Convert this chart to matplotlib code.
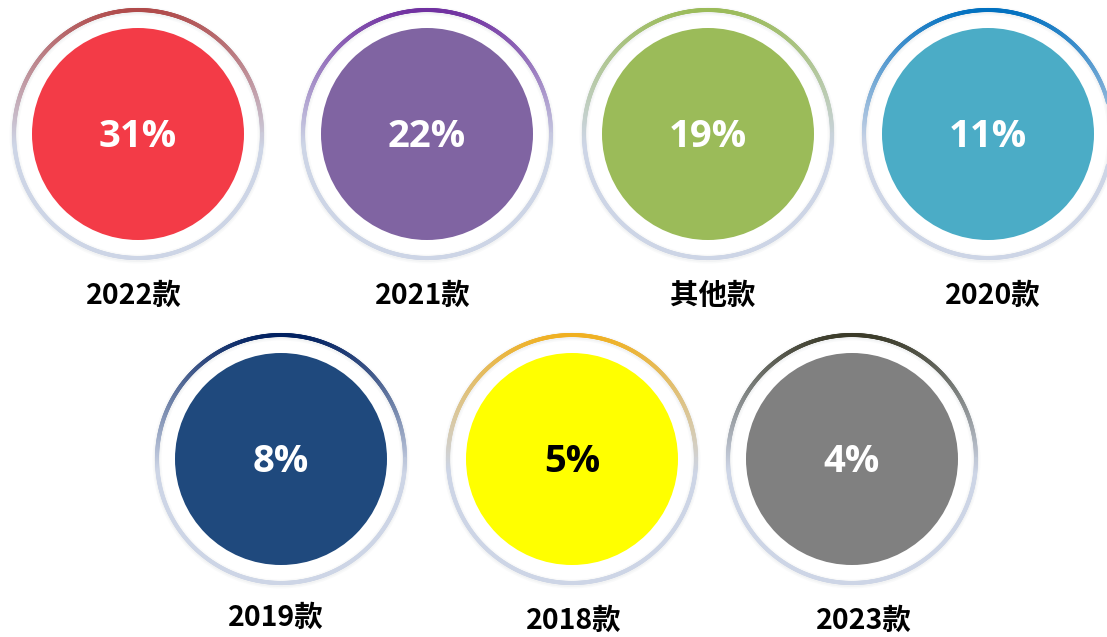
import numpy as np
import matplotlib
matplotlib.use("Agg")
import matplotlib.pyplot as plt
from matplotlib.patches import Circle
from matplotlib.collections import LineCollection
from matplotlib.colors import to_rgb

plt.rcParams['font.family'] = ['Noto Sans CJK SC', 'DejaVu Sans']

categories = ["2022款", "2021款", "其他款", "2020款", "2019款", "2018款", "2023款"]
values = [31, 22, 19, 11, 8, 5, 4]
fill_colors = ["#f33b47", "#8064a2", "#9bbb59", "#4bacc6", "#1f497d", "#ffff00", "#808080"]
ring_colors = ["#b04a4a", "#7030a0", "#9bbb59", "#0070c0", "#002060", "#f0b020", "#3a3a28"]
text_colors = ["white", "white", "white", "white", "white", "black", "white"]

# layout (pixel coordinates)
centers = [(138, 134), (427, 134), (708, 134), (988, 134),
           (281, 459), (572, 459), (852, 459)]
label_pos = [(134, 296), (423, 296), (713, 296), (993, 296),
             (276, 618), (574, 621), (864, 621)]
R_FILL = 106
R_RING = 124

fig = plt.figure(figsize=(11.07, 6.37), dpi=100)
ax = fig.add_axes([0, 0, 1, 1])
ax.set_xlim(0, 1107)
ax.set_ylim(637, 0)
ax.set_aspect('equal')
ax.axis('off')

bottom_col = np.array(to_rgb("#cdd5e6"))
theta = np.linspace(0, 2 * np.pi, 721)

for i, cat in enumerate(categories):
    cx, cy = centers[i]
    # soft shadow
    for w, a in [(9, 0.05), (6, 0.07)]:
        ax.add_patch(Circle((cx, cy + 1), R_RING, fill=False, lw=w * 0.72,
                            ec=(0.6, 0.62, 0.68, a), zorder=1))
    # gradient ring
    xs = cx + R_RING * np.cos(theta)
    ys = cy - R_RING * np.sin(theta)
    pts = np.column_stack([xs, ys]).reshape(-1, 1, 2)
    segs = np.concatenate([pts[:-1], pts[1:]], axis=1)
    mid = 0.5 * (theta[:-1] + theta[1:])
    f = (1 - np.sin(mid)) / 2  # 0 at top, 1 at bottom
    t = np.clip(f / 0.55, 0, 1) ** 0.9
    top = np.array(to_rgb(ring_colors[i]))
    cols = (1 - t)[:, None] * top + t[:, None] * bottom_col
    lc = LineCollection(segs, colors=cols, linewidths=2.9, capstyle='round', zorder=2)
    ax.add_collection(lc)
    # fill circle
    ax.add_patch(Circle((cx, cy), R_FILL, fc=fill_colors[i], ec='none', zorder=3))
    ax.text(cx, cy + 3, f"{values[i]}%", ha='center', va='center', fontsize=27.5,
            fontweight='bold', color=text_colors[i], family=['Open Sans', 'DejaVu Sans'], zorder=4)
    lx, ly = label_pos[i]
    ax.text(lx, ly, cat, ha='center', va='center', fontsize=20.5, fontweight='bold',
            color='black', zorder=4)

fig.savefig("out.png", dpi=100)
